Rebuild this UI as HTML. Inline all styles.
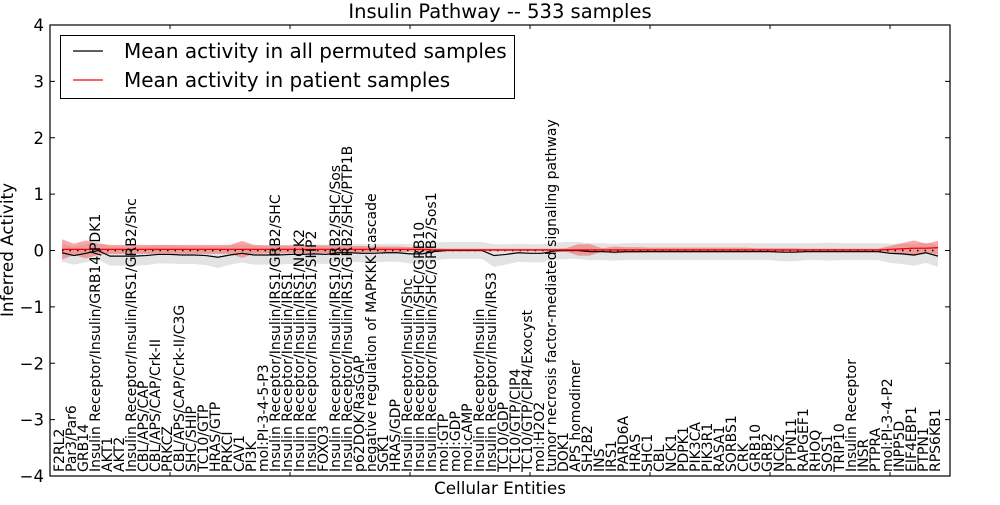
<!DOCTYPE html>
<html><head><meta charset="utf-8"><style>
body{margin:0;background:#fff}
svg text{font-family:"DejaVu Sans","Liberation Sans",sans-serif}
</style></head><body>
<svg id="chart" width="1000" height="500" viewBox="0 0 1000 500" xmlns="http://www.w3.org/2000/svg">
<rect width="1000" height="500" fill="#fff"/>
<text x="500" y="18" font-size="19.5" text-anchor="middle">Insulin Pathway -- 533 samples</text>
<text x="500" y="494" font-size="16.8" text-anchor="middle">Cellular Entities</text>
<text x="13" y="250" font-size="16.8" text-anchor="middle" transform="rotate(-90 13 250)">Inferred Activity</text>
<g id="plot"></g>
</svg>
<script>
const labels=["F2RL2","Par3/Par6","GRB14","Insulin Receptor/Insulin/GRB14/PDK1","AKT1","AKT2","Insulin Receptor/Insulin/IRS1/GRB2/Shc","CBL/APS/CAP","CBL/APS/CAP/Crk-II","PRKCZ","CBL/APS/CAP/Crk-II/C3G","SHC/SHIP","TC10/GTP","HRAS/GTP","PRKCI","CAV1","PI3K","mol:PI-3-4-5-P3","Insulin Receptor/Insulin/IRS1/GRB2/SHC","Insulin Receptor/Insulin/IRS1","Insulin Receptor/Insulin/IRS1/NCK2","Insulin Receptor/Insulin/IRS1/SHP2","FOXO3","Insulin Receptor/Insulin/IRS1/GRB2/SHC/Sos","Insulin Receptor/Insulin/IRS1/GRB2/SHC/PTP1B","p62DOK/RasGAP","negative regulation of MAPKKK cascade","SGK1","HRAS/GDP","Insulin Receptor/Insulin/Shc","Insulin Receptor/Insulin/SHC/GRB10","Insulin Receptor/Insulin/SHC/GRB2/Sos1","mol:GTP","mol:GDP","mol:cAMP","Insulin Receptor/Insulin","Insulin Receptor/Insulin/IRS3","TC10/GDP","TC10/GTP/CIP4","TC10/GTP/CIP4/Exocyst","mol:H2O2","tumor necrosis factor-mediated signaling pathway","DOK1","APS homodimer","SH2B2","INS","IRS1","PARD6A","HRAS","SHC1","CBL","NCK1","PDPK1","PIK3CA","PIK3R1","RASA1","SORBS1","CRK","GRB10","GRB2","NCK2","PTPN11","RAPGEF1","RHOQ","SOS1","TRIP10","Insulin Receptor","INSR","PTPRA","mol:PI-3-4-P2","INPP5D","EIF4EBP1","PTPN1","RPS6KB1"];
const permMean=[-0.04,-0.09,-0.05,0,-0.1,-0.1,-0.1,-0.09,-0.07,-0.07,-0.08,-0.08,-0.09,-0.12,-0.08,-0.05,-0.08,-0.08,-0.08,-0.07,-0.07,-0.06,-0.07,-0.04,-0.04,-0.05,-0.05,-0.04,-0.04,-0.06,-0.06,-0.02,0,0,0,0,-0.09,-0.07,-0.04,-0.05,-0.05,-0.01,0,0,-0.02,-0.02,-0.03,-0.02,-0.02,-0.02,-0.02,-0.02,-0.02,-0.02,-0.02,-0.02,-0.02,-0.02,-0.02,-0.02,-0.03,-0.03,-0.02,-0.02,-0.02,-0.02,-0.02,-0.02,-0.02,-0.05,-0.06,-0.08,-0.04,-0.1];
const permSd=[0.16,0.16,0.16,0.16,0.17,0.17,0.17,0.17,0.16,0.16,0.16,0.16,0.17,0.19,0.17,0.16,0.17,0.17,0.17,0.17,0.17,0.17,0.17,0.16,0.16,0.16,0.16,0.16,0.16,0.17,0.17,0.16,0.15,0.15,0.15,0.15,0.2,0.18,0.16,0.16,0.16,0.15,0.15,0.15,0.15,0.15,0.15,0.15,0.15,0.15,0.15,0.15,0.15,0.15,0.15,0.15,0.15,0.15,0.15,0.15,0.16,0.16,0.15,0.15,0.16,0.15,0.15,0.15,0.15,0.17,0.18,0.19,0.18,0.19];
const patMean=[0.02,0.02,0.02,0.02,0.02,0.02,0.02,0.02,0.02,0.02,0.02,0.02,0.02,0.02,0.02,0.02,0.02,0.02,0.02,0.02,0.02,0.02,0.02,0.02,0.02,0.02,0.02,0.02,0.02,0.02,0.02,0.01,0.01,0.01,0.01,0.01,0.01,0.01,0.01,0.01,0.01,0.01,0.01,0.01,0.01,0.01,0.01,0.01,0.01,0.01,0.01,0.01,0.01,0.01,0.01,0.01,0.01,0.01,0.01,0.01,0.01,0.01,0.01,0.01,0.01,0.01,0.01,0.01,0.01,0.02,0.03,0.04,0.04,0.05];
const patSd=[0.18,0.1,0.16,0.1,0.08,0.08,0.08,0.08,0.08,0.08,0.08,0.08,0.08,0.08,0.08,0.15,0.08,0.07,0.07,0.07,0.07,0.07,0.07,0.06,0.06,0.06,0.05,0.05,0.05,0.04,0.04,0.03,0.02,0.02,0.02,0.02,0.02,0.02,0.02,0.02,0.02,0.02,0.03,0.1,0.1,0.03,0.06,0.05,0.05,0.04,0.04,0.04,0.04,0.04,0.04,0.04,0.04,0.04,0.03,0.03,0.03,0.03,0.02,0.02,0.02,0.02,0.02,0.02,0.02,0.06,0.1,0.14,0.08,0.12];
const yTicks=[-4,-3,-2,-1,0,1,2,3,4];
const xTicks=[0,10,20,30,40,50,60,70];

const L=50,R=950,T=25,B=476;
const x=v=>L+(v)*(R-L)/75;
const y=v=>T+(4-v)*(B-T)/8;
const ns="http://www.w3.org/2000/svg";
const g=document.getElementById('plot');
function mk(tag,attrs,parent){const e=document.createElementNS(ns,tag);for(const k in attrs)e.setAttribute(k,attrs[k]);(parent||g).appendChild(e);return e;}
function band(mean,sd){let up=mean.map((m,i)=>x(i+1)+','+y(m+sd[i]));let dn=mean.map((m,i)=>x(i+1)+','+y(m-sd[i])).reverse();return up.concat(dn).join(' ');}
const gb=mk('polygon',{points:band(permMean,permSd),fill:'#b0b0b0','fill-opacity':0.35});


const rb=mk('polygon',{points:band(patMean,patSd),fill:'#f06060','fill-opacity':0.55});


const zl=mk('line',{x1:x(1),x2:x(74),y1:y(0),y2:y(0),stroke:'#000','stroke-width':1.5,'stroke-dasharray':'1.5 6'});


const pl=mk('polyline',{points:permMean.map((m,i)=>x(i+1)+','+y(m)).join(' '),fill:'none',stroke:'#000','stroke-width':1.2});


const rl=mk('polyline',{points:patMean.map((m,i)=>x(i+1)+','+y(m)).join(' '),fill:'none',stroke:'#ff0000','stroke-width':1.3});


labels.forEach((t,i)=>{const px=x(i+1)+2,py=472;const e=mk('text',{x:px,y:py,'font-size':14,transform:`rotate(-90 ${px} ${py})`});e.textContent=t;

});
yTicks.forEach(v=>{const t=mk('text',{x:44,y:y(v)+6,'font-size':16.5,'text-anchor':'end'});t.textContent=v<0?'\u2212'+(-v):String(v);


mk('line',{x1:L,x2:L+5,y1:y(v),y2:y(v),stroke:'#000'});mk('line',{x1:R-5,x2:R,y1:y(v),y2:y(v),stroke:'#000'});});
xTicks.forEach(v=>{mk('line',{x1:x(v),x2:x(v),y1:T,y2:T+4,stroke:'#000'});mk('line',{x1:x(v),x2:x(v),y1:B-4,y2:B,stroke:'#000'});});
const fr=mk('rect',{x:L,y:T,width:R-L,height:B-T,fill:'none',stroke:'#000','stroke-width':1.2});


const lg=mk('g',{});


mk('rect',{x:60.5,y:35.5,width:454,height:63,fill:'#fff',stroke:'#000','stroke-width':1},lg);
mk('line',{x1:73,x2:103,y1:51,y2:51,stroke:'#000','stroke-width':1.2},lg);
mk('line',{x1:73,x2:103,y1:80,y2:80,stroke:'#ff0000','stroke-width':1.3},lg);
const l1=mk('text',{x:124,y:58,'font-size':20},lg);l1.textContent='Mean activity in all permuted samples';


const l2=mk('text',{x:124,y:87,'font-size':20},lg);l2.textContent='Mean activity in patient samples';


</script>
</body></html>
